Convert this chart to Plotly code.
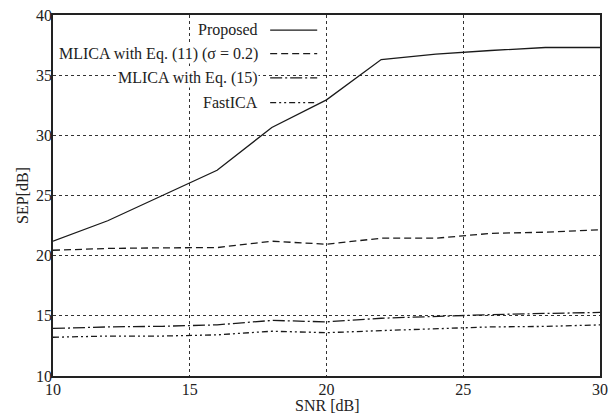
import plotly.graph_objects as go

snr = [10, 12, 14, 16, 18, 20, 22, 24, 26, 28, 30]
proposed = [21.2, 22.9, 25.0, 27.1, 30.65, 32.95, 36.3, 36.75, 37.05, 37.3, 37.3]
mlica11 = [20.45, 20.6, 20.65, 20.67, 21.2, 20.95, 21.45, 21.45, 21.85, 21.95, 22.15]
mlica15 = [13.95, 14.08, 14.13, 14.25, 14.62, 14.5, 14.8, 14.97, 15.1, 15.2, 15.28]
fastica = [13.22, 13.32, 13.32, 13.42, 13.72, 13.6, 13.77, 13.92, 14.08, 14.12, 14.25]

names = ["Proposed", "MLICA with Eq. (11) (\u03c3 = 0.2)", "MLICA with Eq. (15)", "FastICA"]
series = [proposed, mlica11, mlica15, fastica]
dashes = ["solid", "7px,4px", "12px,3px,2px,3px", "6px,3px,2px,3px,2px,3px"]

x_ticks = [10, 15, 20, 25, 30]
y_ticks = [10, 15, 20, 25, 30, 35, 40]

FONT = "Liberation Serif"
fig = go.Figure()
for n, s, d in zip(names, series, dashes):
    fig.add_trace(go.Scatter(x=snr, y=s, mode="lines", name=n,
                             line=dict(color="#1a1a1a", width=1.3, dash=d),
                             showlegend=False, hoverinfo="skip"))

# manual legend (text on the left, sample line on the right)
leg_y = [0.958, 0.893, 0.826, 0.757]
for n, d, yy in zip(names, dashes, leg_y):
    fig.add_annotation(x=0.377, y=yy, xref="paper", yref="paper", text=n,
                       showarrow=False, xanchor="right", yanchor="middle",
                       bgcolor="white", borderpad=0,
                       font=dict(family=FONT, size=16, color="#222"))
    fig.add_shape(type="line", xref="paper", yref="paper",
                  x0=0.397, x1=0.483, y0=yy, y1=yy,
                  line=dict(color="#1a1a1a", width=1.3, dash=d))

# x-axis title
fig.add_annotation(x=0.5, y=-0.083, xref="paper", yref="paper", text="SNR [dB]",
                   showarrow=False, xanchor="center", yanchor="middle",
                   font=dict(family=FONT, size=16, color="#222"))

axis_common = dict(showline=True, linecolor="#222", linewidth=1.5, mirror=True,
                   showgrid=True, gridcolor="#333", griddash="dot", gridwidth=1,
                   zeroline=False, ticks="", automargin=False,
                   tickfont=dict(family=FONT, size=16, color="#222"))

fig.update_xaxes(range=[10, 30], tickvals=x_ticks, ticklabelstandoff=-2, **axis_common)
fig.update_yaxes(range=[10, 40], tickvals=y_ticks, ticklabelstandoff=-4,
                 title=dict(text="SEP[dB]", font=dict(family=FONT, size=16, color="#222"), standoff=3),
                 **axis_common)

fig.update_layout(width=610, height=416, margin=dict(l=53, r=10, t=15, b=40),
                  plot_bgcolor="white", paper_bgcolor="white",
                  font=dict(family=FONT))
fig.write_html("out.html", config={"displayModeBar": False},
               post_script="document.body.style.margin='0';document.body.style.overflow='hidden';")
